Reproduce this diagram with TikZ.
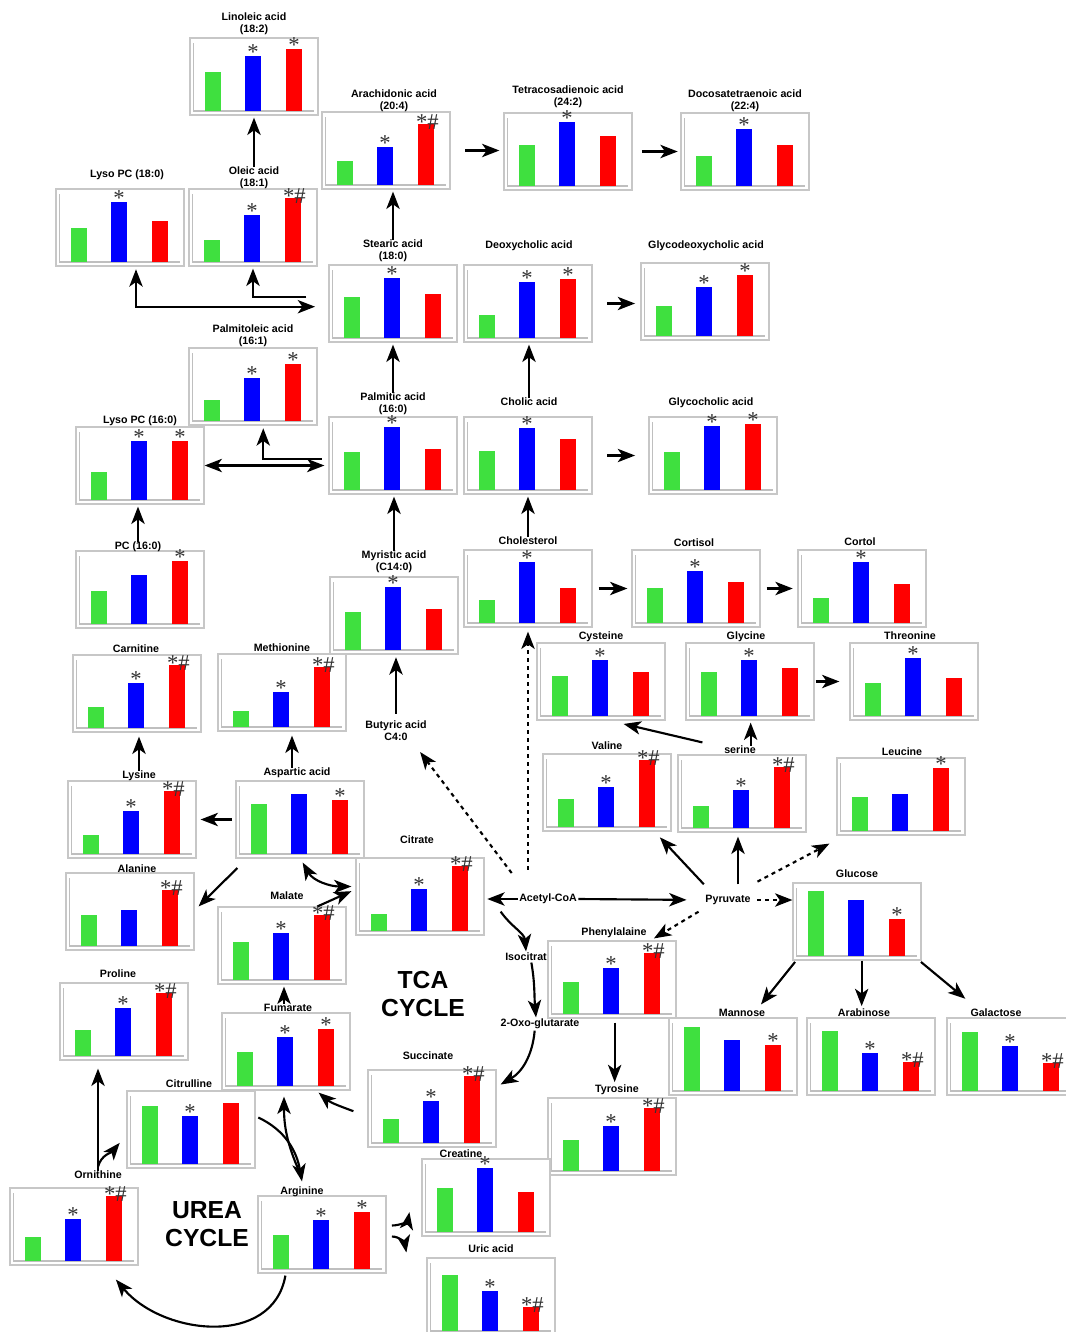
\documentclass[tikz,border=0pt]{standalone}
\usepackage{fontspec}
\setsansfont{Liberation Sans}
\newfontfamily\markfont{Liberation Serif}
\usetikzlibrary{arrows.meta}
\definecolor{cGreen}{HTML}{3FE03F}
\definecolor{cBlue}{HTML}{0000FF}
\definecolor{cRed}{HTML}{FF0000}
\newcommand{\pS}{\raisebox{-2.5pt}{*}}
\newcommand{\pSH}{\raisebox{-4pt}{\hspace{2pt}*\#}}
% name, top-left, green/blue/red heights, marks, title, title shift
\newcommand{\chart}[9]{%
  \begin{scope}[shift={(#2)}]
    \node[chartbox] (#1) at (64,38.5) {};
    \draw[axisline] (3.5,5) |- (124,73);
    \fill[cGreen] (15,73) rectangle ++(16,-#3);
    \fill[cBlue] (55,73) rectangle ++(16,-#4);
    \fill[cRed] (96,73) rectangle ++(16,-#5);
    \node[sig] at (63,73-#4) {#6};
    \node[sig] at (104,73-#5) {#7};
    \node[ttl, shift={(#9)}] (#1-t) at (64,-2.3) {#8};
  \end{scope}}

\begin{document}
\begin{tikzpicture}[
    x=0.75pt, y=-0.75pt,
    chartbox/.style={draw=black!22, line width=0.9pt, fill=white, minimum width=96pt,
                     minimum height=57.75pt, inner sep=0pt},
    axisline/.style={draw=black!25, line width=1pt},
    sig/.style={anchor=base, inner sep=0pt, text=black!80,
                font=\markfont\fontsize{17}{17}\selectfont},
    ttl/.style={anchor=south, inner sep=0pt, align=center, text depth=2pt,
                font=\sffamily\bfseries\fontsize{8}{9}\selectfont},
    lbl/.style={inner sep=1pt, align=center, font=\sffamily\bfseries\fontsize{8}{9}\selectfont},
    cyc/.style={inner sep=0pt, align=center, font=\sffamily\bfseries\fontsize{18.5}{21}\selectfont},
    arr/.style={-{Stealth[length=13pt,width=10pt,inset=3.5pt]}, line width=1.6pt},
    darr/.style={{Stealth[length=13pt,width=10pt,inset=3.5pt]}-{Stealth[length=13pt,width=10pt,inset=3.5pt]},
                 line width=1.6pt},
    dasharr/.style={arr, dash pattern=on 3pt off 3pt},
  ]
  \useasboundingbox (0,0) rectangle (1065,1332);
  \fill[white] (0,0) rectangle (1065,1332);

  \chart{linoleic}{190,38}{39}{55}{62}{\pS}{\pS}{Linoleic acid\\(18:2)}{0,0}
  \chart{arachidonic}{322,112}{24}{38}{61}{\pS}{\pSH}{Arachidonic acid\\(20:4)}{8,3}
  \chart{tetracos}{504,113}{41}{64}{50}{\pS}{}{Tetracosadienoic acid\\(24:2)}{0,-2}
  \chart{docosa}{681,113}{30}{57}{41}{\pS}{}{Docosatetraenoic acid\\(22:4)}{0,2}
  \chart{lysopcA}{56,189}{34}{60}{41}{\pS}{}{Lyso PC (18:0)}{7,-6}
  \chart{oleic}{189,189}{22}{47}{64}{\pS}{\pSH}{Oleic acid\\(18:1)}{1,3}
  \chart{stearic}{329,265}{41}{60}{44}{\pS}{}{Stearic acid\\(18:0)}{0,0}
  \chart{deoxy}{464,265}{23}{56}{59}{\pS}{\pS}{Deoxycholic acid}{1,-11}
  \chart{glydeoxy}{641,263}{30}{49}{61}{\pS}{\pS}{Glycodeoxycholic acid}{1,-9}
  \chart{palmitoleic}{189,348}{21}{43}{57}{\pS}{\pS}{Palmitoleic acid\\(16:1)}{0,2}
  \chart{lysopcB}{76,427}{28}{59}{59}{\pS}{\pS}{Lyso PC (16:0)}{0,2}
  \chart{palmitic}{329,417}{38}{63}{41}{\pS}{}{Palmitic acid\\(16:0)}{0,1}
  \chart{cholic}{464,417}{39}{62}{51}{\pS}{}{Cholic acid}{1,-6}
  \chart{glychol}{649,417}{38}{64}{66}{\pS}{\pS}{Glycocholic acid}{-2,-6}
  \chart{pc}{76,551}{33}{49}{63}{}{\pS}{PC (16:0)}{-2,4}
  \chart{myristic}{330,577}{38}{63}{41}{\pS}{}{Myristic acid\\(C14:0)}{0,-1}
  \chart{cholest}{464,550}{23}{61}{35}{\pS}{}{Cholesterol}{0,0}
  \chart{cortisol}{632,550}{35}{52}{41}{\pS}{}{Cortisol}{-2,2}
  \chart{cortol}{798,550}{25}{61}{39}{\pS}{}{Cortol}{-2,1}
  \chart{cysteine}{537,643}{40}{56}{44}{\pS}{}{Cysteine}{0,2}
  \chart{glycine}{686,643}{44}{56}{48}{\pS}{}{Glycine}{-4,2}
  \chart{threonine}{850,643}{33}{58}{38}{\pS}{}{Threonine}{-4,2}
  \chart{carnitine}{73,655}{21}{45}{63}{\pS}{\pSH}{Carnitine}{-1,3}
  \chart{methionine}{218,654}{16}{35}{60}{\pS}{\pSH}{Methionine}{0,3}
  \chart{lysine}{68,781}{19}{43}{63}{\pS}{\pSH}{Lysine}{7,3}
  \chart{aspartic}{236,781}{50}{60}{54}{}{\pS}{Aspartic acid}{-3,0}
  \chart{alanine}{66,873}{31}{36}{56}{}{\pSH}{Alanine}{7,5}
  \chart{malate}{218,907}{38}{47}{65}{\pS}{\pSH}{Malate}{5,-2}
  \chart{citrate}{356,858}{17}{42}{65}{\pS}{\pSH}{Citrate}{-3,-9}
  \chart{phenyl}{548,941}{32}{46}{61}{\pS}{\pSH}{Phenylalaine}{2,0}
  \chart{proline}{60,983}{26}{48}{63}{\pS}{\pSH}{Proline}{-6,0}
  \chart{fumarate}{222,1013}{34}{49}{57}{\pS}{\pS}{Fumarate}{2,4}
  \chart{succinate}{368,1070}{24}{42}{67}{\pS}{\pSH}{Succinate}{-4,-5}
  \chart{tyrosine}{548,1098}{31}{45}{63}{\pS}{\pSH}{Tyrosine}{5,0}
  \chart{citrulline}{127,1091}{58}{48}{61}{\pS}{}{Citrulline}{-2,2}
  \chart{ornithine}{10,1188}{24}{42}{65}{\pS}{\pSH}{Ornithine}{24,-4}
  \chart{arginine}{258,1196}{34}{49}{57}{\pS}{\pS}{Arginine}{-20,4}
  \chart{creatine}{422,1159}{44}{64}{40}{\pS}{}{Creatine}{-25,4}
  \chart{uric}{427,1258}{56}{40}{24}{\pS}{\pSH}{Uric acid}{0,0}
  \chart{valine}{543,754}{28}{40}{67}{\pS}{\pSH}{Valine}{0,1}
  \chart{serine}{678,755}{22}{38}{61}{\pS}{\pSH}{serine}{-2,4}
  \chart{leucine}{837,758}{34}{37}{63}{}{\pS}{Leucine}{1,3}
  \chart{glucose}{793,883}{65}{56}{37}{}{\pS}{Glucose}{0,0}
  \chart{mannose}{669,1018}{64}{51}{46}{}{\pS}{Mannose}{9,4}
  \chart{arabinose}{807,1018}{60}{38}{29}{\pS}{\pSH}{Arabinose}{-7,4}
  \chart{galactose}{947,1018}{59}{45}{28}{\pS}{\pSH}{Galactose}{-15,4}

  \node[lbl] (butyric) at (396,730.5) {Butyric acid\\C4:0};
  \node[lbl] (acetyl) at (548,899) {Acetyl-CoA};
  \node[lbl] (pyruvate) at (728,900) {Pyruvate};
  \node[lbl] (isocit) at (526,957) {Isocitrat};
  \node[lbl] (oxoglut) at (540,1024) {2-Oxo-glutarate};
  \node[cyc] (tca) at (423,994) {TCA\\CYCLE};
  \node[cyc] (urea) at (207,1224) {UREA\\CYCLE};

  \draw[arr, shorten >=1.5pt] (oleic-t.north) -- (oleic-t.north |- linoleic.south);
  \draw[arr, shorten >=1.5pt] (stearic-t.north) -- (stearic-t.north |- arachidonic.south);
  \draw[arr, shorten <=11pt, shorten >=3pt] (arachidonic.east) -- (arachidonic.east -| tetracos.west);
  \draw[arr, shorten <=7pt, shorten >=2pt] (tetracos.east) -- (tetracos.east -| docosa.west);
  \draw[darr] ([xshift=-10pt,yshift=-2.4pt]stearic.west) -| ([xshift=12pt,yshift=-2pt]lysopcA.south);
  \draw[arr] ([xshift=-16.5pt,yshift=4.9pt]stearic.west) -| ([yshift=-1.5pt]oleic.south);
  \draw[arr, shorten >=1.5pt] (palmitic-t.north) -- (palmitic-t.north |- stearic.south);
  \draw[arr, shorten >=1.5pt] (cholic-t.north) -- (cholic-t.north |- deoxy.south);
  \draw[arr, shorten <=11pt, shorten >=4pt] (deoxy.east) -- (deoxy.east -| glydeoxy.west);
  \draw[arr, shorten <=11pt, shorten >=10pt] (cholic.east) -- (cholic.east -| glychol.west);
  \draw[darr, shorten >=3pt] (lysopcB.east) -- (lysopcB.east -| palmitic.west);
  \draw[arr] ([xshift=-5pt,yshift=-2.4pt]palmitic.west) -| ([xshift=7.7pt,yshift=-2pt]palmitoleic.south);
  \draw[arr, shorten >=1.5pt] (myristic-t.north) -- (myristic-t.north |- palmitic.south);
  \draw[arr, shorten <=4pt, shorten >=2pt] (butyric.north) -- (butyric.north |- myristic.south);
  \draw[arr, shorten >=1.5pt] (cholest-t.north) -- (cholest-t.north |- cholic.south);
  \draw[arr, shorten <=4.5pt, shorten >=3pt] (cholest.east) -- (cholest.east -| cortisol.west);
  \draw[arr, shorten <=4.5pt, shorten >=3.5pt] (cortisol.east) -- (cortisol.east -| cortol.west);
  \draw[arr, shorten <=1pt, shorten >=7.5pt] (glycine.east) -- (glycine.east -| threonine.west);
  \draw[arr, shorten >=1.5pt] (pc-t.north) -- (pc-t.north |- lysopcB.south);
  \draw[arr, shorten >=3pt] (lysine-t.north) -- (lysine-t.north |- carnitine.south);
  \draw[arr, shorten >=3pt] ([xshift=-3.75pt]aspartic-t.north) -- ([xshift=-3.75pt]aspartic-t.north |- methionine.south);
  \draw[arr, shorten <=2.5pt, shorten >=3pt] (aspartic.west) -- (aspartic.west -| lysine.east);
  \draw[arr] ([xshift=1.5pt,yshift=-7pt]aspartic.south west) -- ([xshift=3pt,yshift=-25.5pt]alanine.north east);
  \draw[darr] ([xshift=2pt,yshift=-3pt]aspartic.south) to[out=-60,in=180] ([xshift=-3pt,yshift=7.5pt]citrate.west);
  \draw[arr] ([xshift=10.5pt,yshift=-6.75pt]malate-t.east) -- ([xshift=-3pt,yshift=4pt]citrate.west);

  \draw[arr, shorten >=2pt] (acetyl.west) -- (acetyl.west -| citrate.east);
  \draw[arr, shorten >=13pt] (acetyl.east) -- (pyruvate.west);
  \draw[dasharr] ([xshift=-4.5pt,yshift=19.5pt]acetyl.west) -- ([xshift=-6pt,yshift=-7.5pt]butyric.south east);
  \draw[dasharr, shorten >=3pt] ([yshift=17pt]cholest.south |- acetyl.north) -- (cholest.south);
  \draw[arr] ([xshift=-12.75pt,yshift=-4.5pt]acetyl.south west) to[out=-55,in=95] (isocit.north);
  \draw[arr] ([xshift=4pt]isocit.south) to[out=-80,in=95] ([xshift=-3pt]oxoglut.north);
  \draw[arr] ([xshift=-4pt]oxoglut.south) to[out=-95,in=30] ([xshift=3pt,yshift=18pt]succinate.east);
  \draw[arr] ([xshift=-10.5pt,yshift=-2pt]succinate.west) to[out=160,in=-40] ([xshift=-24pt,yshift=-1.5pt]fumarate.south east);
  \draw[arr, shorten >=1.5pt] ([xshift=-3pt]fumarate-t.north) -- ([xshift=-3pt]fumarate-t.north |- malate.south);

  \draw[arr] ([yshift=7pt]pyruvate.north west) -- ([xshift=-8.8pt,yshift=-4.3pt]valine.south east);
  \draw[arr, shorten >=3pt] ([xshift=7.5pt,yshift=7pt]pyruvate.north) -- ([xshift=7.5pt]pyruvate.north |- serine.south);
  \draw[dasharr] ([xshift=4pt,yshift=9pt]pyruvate.north east) -- ([xshift=-5.25pt,yshift=-6pt]leucine.south west);
  \draw[dasharr, shorten <=4pt] (pyruvate.east) -- (pyruvate.east -| glucose.west);
  \draw[dasharr] ([xshift=-4pt,yshift=-4pt]pyruvate.south west) -- ([xshift=-17pt,yshift=1.5pt]phenyl.north east);
  \draw[arr, shorten >=1.5pt] ([xshift=8pt]serine-t.north) -- ([xshift=8pt]serine-t.north |- glycine.south);
  \draw[arr] ([xshift=18.75pt,yshift=9pt]serine.north west) -- ([xshift=-31.5pt,yshift=-2.5pt]cysteine.south east);
  \draw[arr, shorten <=3pt, shorten >=2pt] ([xshift=2pt]phenyl.south) -- ([xshift=2pt]phenyl.south |- tyrosine-t.north);
  \draw[arr] ([xshift=2pt,yshift=-1pt]glucose.south west) -- ([xshift=21pt,yshift=9.75pt]mannose.north);
  \draw[arr, shorten >=2pt] ([xshift=3.5pt]glucose.south) -- ([xshift=3.5pt]glucose.south |- arabinose-t.north);
  \draw[arr] ([xshift=-0.5pt,yshift=-1pt]glucose.south east) -- ([xshift=-23pt,yshift=7.5pt]galactose-t.north);

  \draw[arr, shorten >=6pt] (ornithine-t.north) -- (ornithine-t.north |- proline.south);
  \draw[arr] ([yshift=3pt]ornithine-t.north) to[out=75,in=-130] ([xshift=-5pt,yshift=-10pt]citrulline.west);
  \draw[arr] ([xshift=2pt,yshift=9pt]citrulline.east) to[out=-25,in=100] ([yshift=4pt]arginine-t.north);
  \draw[arr] ([yshift=7pt]arginine-t.north) to[out=115,in=-90] ([xshift=-1.5pt,yshift=-4.5pt]fumarate.south);
  \draw[arr, looseness=1.1] ([xshift=21pt,yshift=-1.5pt]arginine.south west) to[out=-100,in=-50] ([xshift=-17pt,yshift=-10.5pt]ornithine.south east);
  \draw[arr] ([xshift=4pt,yshift=6.75pt]arginine.east) to[out=0,in=-100] ([xshift=-9pt,yshift=-11pt]creatine.west);
  \draw[arr] ([xshift=4pt,yshift=-1.5pt]arginine.east) to[out=0,in=100] ([xshift=-15pt,yshift=33pt]uric.west);
\end{tikzpicture}
\end{document}
